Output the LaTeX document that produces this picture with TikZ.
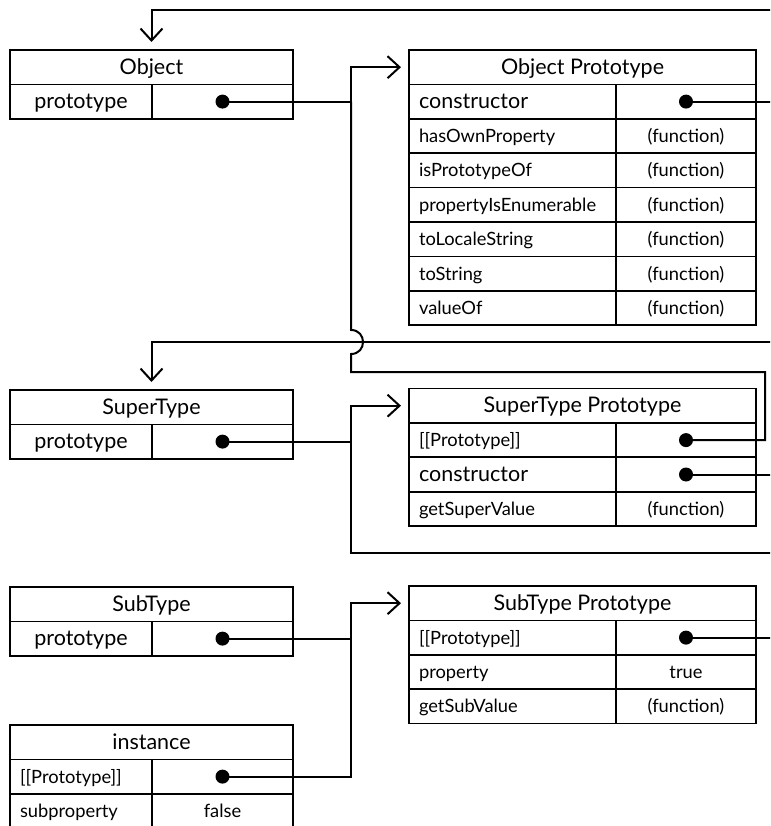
\documentclass[tikz,border=0pt]{standalone}
\usepackage{fontspec}
\setmainfont{Lato}
\usetikzlibrary{arrows.meta}
\newcommand\txtL{\fontsize{21.5}{24}\selectfont}
\newcommand\txtS{\fontsize{18.3}{21}\selectfont}
\begin{document}
\begin{tikzpicture}[x=1pt,y=-1pt,
  cell/.style={draw, line width=1.7pt, inner ysep=0pt, outer sep=0pt, minimum height=34.4pt, anchor=north west, text height=14pt, text depth=1pt},
  ccell/.style={cell, minimum width=#1, inner xsep=0pt, align=center},
  lcell/.style={cell, text width=#1, inner xsep=10pt, align=left},
  fb/.style={font=\txtL, text height=15.5pt, text depth=1.5pt},
  fs/.style={font=\txtS, text height=14pt, text depth=1pt},
  dotn/.style={circle, fill, inner sep=0pt, minimum size=14pt},
  conn/.style={line width=2pt},
  arr/.style={conn, -{Straight Barb[length=12pt,width=22pt]}}
]
\useasboundingbox (0,0) rectangle (770,826);
\clip (0,0) rectangle (770,826);
\coordinate (vx) at (351,0);
\coordinate (rx) at (765,0);
\coordinate (ex) at (790,0);

% Object
\node[ccell=283, fb] (obj) at (10,50) {Object};
\node[ccell=142, fb] (objP) at (obj.south west) {prototype};
\node[ccell=141] (objV) at (objP.north east) {};
\node[dotn] (objD) at (objV.center) {};

% Object Prototype
\node[ccell=347, fb] (op) at (409,50) {Object Prototype};
\node[lcell=187, fb] (op1) at (op.south west) {constructor};
\node[ccell=140] (op1v) at (op1.north east) {};
\node[dotn] (op1d) at (op1v.center) {};
\node[lcell=187, fs] (op2) at (op1.south west) {hasOwnProperty};
\node[ccell=140, fs] (op2v) at (op2.north east) {(function)};
\node[lcell=187, fs] (op3) at (op2.south west) {isPrototypeOf};
\node[ccell=140, fs] (op3v) at (op3.north east) {(function)};
\node[lcell=187, fs] (op4) at (op3.south west) {propertyIsEnumerable};
\node[ccell=140, fs] (op4v) at (op4.north east) {(function)};
\node[lcell=187, fs] (op5) at (op4.south west) {toLocaleString};
\node[ccell=140, fs] (op5v) at (op5.north east) {(function)};
\node[lcell=187, fs] (op6) at (op5.south west) {toString};
\node[ccell=140, fs] (op6v) at (op6.north east) {(function)};
\node[lcell=187, fs] (op7) at (op6.south west) {valueOf};
\node[ccell=140, fs] (op7v) at (op7.north east) {(function)};

% SuperType
\node[ccell=283, fb] (st) at (10,390) {SuperType};
\node[ccell=142, fb] (stP) at (st.south west) {prototype};
\node[ccell=141] (stV) at (stP.north east) {};
\node[dotn] (stD) at (stV.center) {};

% SuperType Prototype
\node[ccell=347, fb] (stp) at (409,388.5) {SuperType Prototype};
\node[lcell=187, fs] (stp1) at (stp.south west) {[[Prototype]]};
\node[ccell=140] (stp1v) at (stp1.north east) {};
\node[dotn] (stp1d) at (stp1v.center) {};
\node[lcell=187, fb] (stp2) at (stp1.south west) {constructor};
\node[ccell=140] (stp2v) at (stp2.north east) {};
\node[dotn] (stp2d) at (stp2v.center) {};
\node[lcell=187, fs] (stp3) at (stp2.south west) {getSuperValue};
\node[ccell=140, fs] (stp3v) at (stp3.north east) {(function)};

% SubType
\node[ccell=283, fb] (sb) at (10,587) {SubType};
\node[ccell=142, fb] (sbP) at (sb.south west) {prototype};
\node[ccell=141] (sbV) at (sbP.north east) {};
\node[dotn] (sbD) at (sbV.center) {};

% SubType Prototype
\node[ccell=347, fb] (sbp) at (409,586) {SubType Prototype};
\node[lcell=187, fs] (sbp1) at (sbp.south west) {[[Prototype]]};
\node[ccell=140] (sbp1v) at (sbp1.north east) {};
\node[dotn] (sbp1d) at (sbp1v.center) {};
\node[lcell=187, fs] (sbp2) at (sbp1.south west) {property};
\node[ccell=140, fs] (sbp2v) at (sbp2.north east) {true};
\node[lcell=187, fs] (sbp3) at (sbp2.south west) {getSubValue};
\node[ccell=140, fs] (sbp3v) at (sbp3.north east) {(function)};

% instance
\node[ccell=283, fb] (in) at (10,725) {instance};
\node[lcell=122, fs] (in1) at (in.south west) {[[Prototype]]};
\node[ccell=141] (in1v) at (in1.north east) {};
\node[dotn] (inD) at (in1v.center) {};
\node[lcell=122, fs] (in2) at (in1.south west) {subproperty};
\node[ccell=141, fs] (in2v) at (in2.north east) {false};

% connectors
\draw[arr] (objD.center) -- (objD -| vx) |- ([xshift=-8pt]op.west);
\draw[conn] (stp1d.center) -- (stp1d -| rx) -- (765,372) -- (351,372) -- (351,354)
  .. controls (367,354) and (367,330) .. (351,330) -- (objD -| vx);
\draw[arr] (op1d.center) -- (op1d -| ex) |- ([yshift=40pt]obj.north) -- ([yshift=8pt]obj.north);
\draw[arr] (stp2d.center) -- (stp2d -| ex) |- ([yshift=48pt]st.north) -- ([yshift=8pt]st.north);
\draw[arr] (stD.center) -- (stD -| vx) |- ([xshift=-8pt]stp.west);
\draw[conn] (sbp1d.center) -- (sbp1d -| ex) -- (790,553) -- (351,553) -- (stD -| vx);
\draw[arr] (sbD.center) -- (sbD -| vx) |- ([xshift=-8pt]sbp.west);
\draw[conn] (inD.center) -- (inD -| vx) -- (sbD -| vx);
\end{tikzpicture}
\end{document}
